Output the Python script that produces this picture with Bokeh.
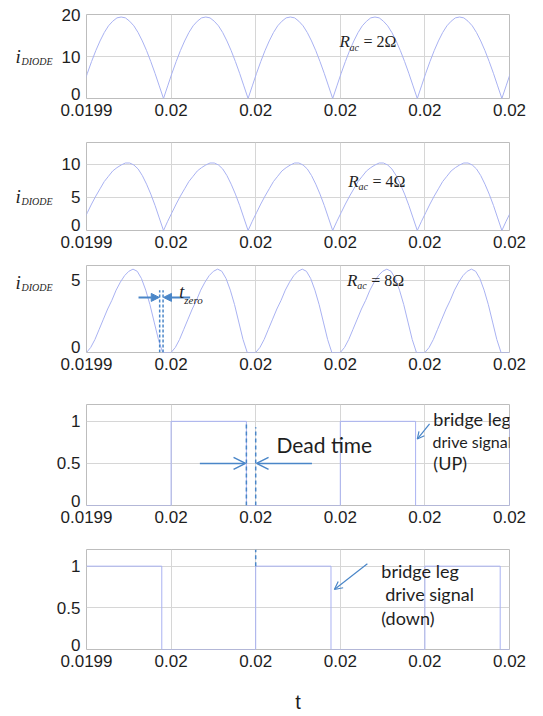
import numpy as np
from bokeh.plotting import figure
from bokeh.layouts import column, row
from bokeh.models import Range1d, FixedTicker, Label, Arrow, NormalHead, OpenHead
from bokeh.embed import file_html
from bokeh.resources import INLINE

# ---------------- data ----------------
# time axis in microseconds (19940 us = 0.01994 s)
tick_us = [19940, 19960, 19980, 20000, 20020, 20040]
tick_labels = ["0.0199", "0.02", "0.02", "0.02", "0.02", "0.02"]

# diode current, R_ac = 2 ohm, samples every 1 us starting at 19938.2 us
t0_r2 = 19938.2
i_r2 = [0, 3.0, 6.0, 8.8, 11.4, 13.7, 15.7, 17.3, 18.4, 19.2, 19.4, 19.2, 18.4, 17.3, 15.7, 13.7, 11.4, 8.8, 6.0, 3.0,
        0, 3.0, 6.0, 8.8, 11.4, 13.7, 15.7, 17.3, 18.4, 19.2, 19.4, 19.2, 18.4, 17.3, 15.7, 13.7, 11.4, 8.8, 6.0, 3.0,
        0, 3.0, 6.0, 8.8, 11.4, 13.7, 15.7, 17.3, 18.4, 19.2, 19.4, 19.2, 18.4, 17.3, 15.7, 13.7, 11.4, 8.8, 6.0, 3.0,
        0, 3.0, 6.0, 8.8, 11.4, 13.7, 15.7, 17.3, 18.4, 19.2, 19.4, 19.2, 18.4, 17.3, 15.7, 13.7, 11.4, 8.8, 6.0, 3.0,
        0, 3.0, 6.0, 8.8, 11.4, 13.7, 15.7, 17.3, 18.4, 19.2, 19.4, 19.2, 18.4, 17.3, 15.7, 13.7, 11.4, 8.8, 6.0, 3.0,
        0, 3.0, 6.0]

# diode current, R_ac = 4 ohm, samples every 1 us starting at 19938.2 us
t0_r4 = 19938.2
i_r4 = [0, 1.4, 2.7, 4.0, 5.2, 6.3, 7.4, 8.2, 9.0, 9.5, 9.9, 10.2, 10.2, 9.9, 9.3, 8.3, 7.0, 5.5, 3.8, 1.9,
        0, 1.4, 2.7, 4.0, 5.2, 6.3, 7.4, 8.2, 9.0, 9.5, 9.9, 10.2, 10.2, 9.9, 9.3, 8.3, 7.0, 5.5, 3.8, 1.9,
        0, 1.4, 2.7, 4.0, 5.2, 6.3, 7.4, 8.2, 9.0, 9.5, 9.9, 10.2, 10.2, 9.9, 9.3, 8.3, 7.0, 5.5, 3.8, 1.9,
        0, 1.4, 2.7, 4.0, 5.2, 6.3, 7.4, 8.2, 9.0, 9.5, 9.9, 10.2, 10.2, 9.9, 9.3, 8.3, 7.0, 5.5, 3.8, 1.9,
        0, 1.4, 2.7, 4.0, 5.2, 6.3, 7.4, 8.2, 9.0, 9.5, 9.9, 10.2, 10.2, 9.9, 9.3, 8.3, 7.0, 5.5, 3.8, 1.9,
        0, 1.4, 2.7]

# diode current, R_ac = 8 ohm, samples every 1 us starting at 19940 us
t0_r8 = 19940.0
i_r8 = [0, 0.35, 0.9, 1.6, 2.3, 3.0, 3.6, 4.3, 4.85, 5.3, 5.6, 5.75, 5.6, 5.1, 4.3, 3.3, 2.1, 0.9, 0, 0,
        0, 0.35, 0.9, 1.6, 2.3, 3.0, 3.6, 4.3, 4.85, 5.3, 5.6, 5.75, 5.6, 5.1, 4.3, 3.3, 2.1, 0.9, 0, 0,
        0, 0.35, 0.9, 1.6, 2.3, 3.0, 3.6, 4.3, 4.85, 5.3, 5.6, 5.75, 5.6, 5.1, 4.3, 3.3, 2.1, 0.9, 0, 0,
        0, 0.35, 0.9, 1.6, 2.3, 3.0, 3.6, 4.3, 4.85, 5.3, 5.6, 5.75, 5.6, 5.1, 4.3, 3.3, 2.1, 0.9, 0, 0,
        0, 0.35, 0.9, 1.6, 2.3, 3.0, 3.6, 4.3, 4.85, 5.3, 5.6, 5.75, 5.6, 5.1, 4.3, 3.3, 2.1, 0.9, 0, 0,
        0]

# bridge leg drive signals (switching instants in us, level after each instant)
up_t = [19940, 19960, 19977.8, 20000, 20017.8, 20040]
up_v = [0, 1, 0, 1, 0, 1]
down_t = [19940, 19957.8, 19980, 19997.8, 20020, 20037.8, 20040]
down_v = [1, 0, 1, 0, 1, 0, 0]

# ---------------- style ----------------
WAVE = "#a9b2f2"
ANN = "#4a86c8"
GRID = "#d6d6d6"
TXT = "#1e1e1e"
FW = 423
LW = 56  # width of the side label strip
ZERO_LIFT_PX = 5  # the "0" y label sits a little above the x axis


def make_fig(ymax, yticks, ylabels, top, fh, bottom, left):
    p = figure(frame_width=FW, frame_height=fh,
               min_border_left=left, min_border_right=30,
               min_border_top=top, min_border_bottom=bottom,
               x_range=Range1d(19940, 20040), y_range=Range1d(0, ymax),
               output_backend="svg", toolbar_location=None)
    p.xaxis.ticker = FixedTicker(ticks=tick_us)
    p.xaxis.major_label_overrides = {t: l for t, l in zip(tick_us, tick_labels)}
    p.xgrid.ticker = FixedTicker(ticks=tick_us)
    # label positions: the zero label is lifted a few pixels, grid stays on true ticks
    lift = round(ZERO_LIFT_PX * ymax / fh, 3)
    label_pos = [lift if t == 0 else t for t in yticks]
    p.yaxis.ticker = FixedTicker(ticks=label_pos)
    p.yaxis.major_label_overrides = {t: l for t, l in zip(label_pos, ylabels)}
    p.ygrid.ticker = FixedTicker(ticks=yticks)
    for ax in (p.xaxis[0], p.yaxis[0]):
        ax.major_tick_in = 0
        ax.major_tick_out = 0
        ax.minor_tick_in = 0
        ax.minor_tick_out = 0
        ax.axis_line_color = None
        ax.major_label_text_font = "Liberation Sans"
        ax.major_label_text_font_size = "17px"
        ax.major_label_text_color = TXT
    p.xaxis.major_label_standoff = 5
    p.yaxis.major_label_standoff = 6
    p.outline_line_color = "#bdbdbd"
    p.outline_line_width = 1
    p.xgrid.grid_line_color = GRID
    p.ygrid.grid_line_color = GRID
    p.background_fill_color = "white"
    p.border_fill_color = "white"
    return p


def side_fig(ymax, top, fh, bottom, y_i, y_sub):
    s = figure(frame_width=LW, frame_height=fh,
               min_border_left=0, min_border_right=0,
               min_border_top=top, min_border_bottom=bottom,
               x_range=Range1d(0, LW), y_range=Range1d(0, ymax),
               x_axis_type=None, y_axis_type=None,
               output_backend="svg", toolbar_location=None)
    s.outline_line_color = None
    s.add_layout(Label(x=15, y=y_i, text="i", text_font="Liberation Serif",
                       text_font_size="19px", text_font_style="italic",
                       text_baseline="middle", text_align="left", text_color=TXT))
    s.add_layout(Label(x=21, y=y_sub, text="DIODE", text_font="Liberation Serif",
                       text_font_size="10px", text_font_style="italic",
                       text_baseline="middle", text_align="left", text_color=TXT))
    return s


def lab(p, x, y, text, font="Liberation Serif", size="18px", style="italic",
        align="left", baseline="middle", color=TXT):
    p.add_layout(Label(x=x, y=y, text=text, text_font=font, text_font_size=size,
                       text_font_style=style, text_align=align,
                       text_baseline=baseline, text_color=color))


def rac(p, x, y, dy_sub, txt):
    lab(p, x, y, "R", size="17px")
    lab(p, x + 2.4, y - dy_sub, "ac", size="10px")
    lab(p, x + 5.7, y, txt, style="normal", size="16px")


# ---------------- panel 1 : R = 2 ----------------
p1 = make_fig(20, [0, 10, 20], ["0", "10", "20"], 14, 84, 30, 86 - LW)
p1.line(t0_r2 + np.arange(len(i_r2)), i_r2, line_color=WAVE, line_width=1)
rac(p1, 19999.8, 13.5, 1.3, "= 2\u03a9")
s1 = side_fig(20, 14, 84, 30, 10.0, 8.8)

# ---------------- panel 2 : R = 4 ----------------
p2 = make_fig(13.3, [0, 5, 10], ["0", "5", "10"], 14, 88, 30, 86 - LW)
p2.line(t0_r4 + np.arange(len(i_r4)), i_r4, line_color=WAVE, line_width=1)
rac(p2, 20001.9, 7.4, 0.8, "= 4\u03a9")
s2 = side_fig(13.3, 14, 88, 30, 5.2, 4.4)

# ---------------- panel 3 : R = 8 ----------------
p3 = make_fig(6, [0, 5], ["0", "5"], 5, 87, 30, 86 - LW)
p3.line(t0_r8 + np.arange(len(i_r8)), i_r8, line_color=WAVE, line_width=1)
rac(p3, 20001.6, 5.0, 0.36, "= 8\u03a9")
s3 = side_fig(6, 5, 87, 30, 4.85, 4.5)
# t_zero annotation
p3.segment(x0=[19957.3, 19958.1], y0=[0, 0], x1=[19957.3, 19958.1], y1=[4.3, 4.3],
           line_color=ANN, line_width=1.5, line_dash="3 2")
p3.add_layout(Arrow(end=NormalHead(size=8, fill_color=ANN, line_color=ANN),
                    x_start=19952.3, y_start=3.8, x_end=19957.2, y_end=3.8,
                    line_color=ANN, line_width=2))
p3.add_layout(Arrow(end=NormalHead(size=8, fill_color=ANN, line_color=ANN),
                    x_start=19964.5, y_start=3.8, x_end=19958.2, y_end=3.8,
                    line_color=ANN, line_width=2))
lab(p3, 19961.9, 4.2, "t", size="18px")
lab(p3, 19963.1, 3.6, "zero", size="11px")

# ---------------- panel 4 : UP drive ----------------
p4 = make_fig(1.2, [0, 0.5, 1], ["0", "0.5", "1"], 22, 101, 30, 86)
p4.step(up_t, up_v, mode="after", line_color=WAVE, line_width=1)
p4.segment(x0=[19977.8, 19980], y0=[0, 0], x1=[19977.8, 19980], y1=[0.97, 0.93],
           line_color=ANN, line_width=1.5, line_dash="4 3")
p4.add_layout(Arrow(end=OpenHead(size=12, line_color=ANN, line_width=1.5),
                    x_start=19966.8, y_start=0.5, x_end=19977.6, y_end=0.5,
                    line_color=ANN, line_width=1.5))
p4.add_layout(Arrow(end=OpenHead(size=12, line_color=ANN, line_width=1.5),
                    x_start=19993.3, y_start=0.5, x_end=19980.2, y_end=0.5,
                    line_color=ANN, line_width=1.5))
lab(p4, 19984.9, 0.73, "Dead time", font="Lato", size="21px", style="normal")
p4.add_layout(Arrow(end=OpenHead(size=7, line_color=ANN, line_width=1.2),
                    x_start=20021.1, y_start=0.97, x_end=20018.2, y_end=0.79,
                    line_color=ANN, line_width=1.2))
lab(p4, 20022.0, 1.03, "bridge leg", font="Lato", size="18px", style="normal")
lab(p4, 20021.8, 0.76, "drive signal", font="Lato", size="16px", style="normal")
lab(p4, 20022.0, 0.51, "(UP)", font="Lato", size="18px", style="normal")

# ---------------- panel 5 : DOWN drive ----------------
p5 = make_fig(1.2, [0, 0.5, 1], ["0", "0.5", "1"], 14, 100, 66, 86)
p5.step(down_t, down_v, mode="after", line_color=WAVE, line_width=1)
p5.segment(x0=[19980], y0=[1.0], x1=[19980], y1=[1.2],
           line_color=ANN, line_width=1.5, line_dash="4 3")
p5.add_layout(Arrow(end=OpenHead(size=8, line_color=ANN, line_width=1.2),
                    x_start=20006.4, y_start=1.03, x_end=19998.6, y_end=0.72,
                    line_color=ANN, line_width=1.2))
lab(p5, 20009.7, 0.94, "bridge leg", font="Lato", size="18px", style="normal")
lab(p5, 20010.6, 0.67, "drive signal", font="Lato", size="18px", style="normal")
lab(p5, 20009.7, 0.38, "(down)", font="Lato", size="18px", style="normal")
p5.xaxis.axis_label = "t"
p5.xaxis.axis_label_text_font = "Liberation Sans"
p5.xaxis.axis_label_text_font_size = "20px"
p5.xaxis.axis_label_text_font_style = "normal"
p5.xaxis.axis_label_text_color = TXT
p5.xaxis.axis_label_standoff = 21

layout = column(row(s1, p1, spacing=0), row(s2, p2, spacing=0), row(s3, p3, spacing=0),
                p4, p5, spacing=0)
open("out.html", "w").write(file_html(layout, INLINE))
